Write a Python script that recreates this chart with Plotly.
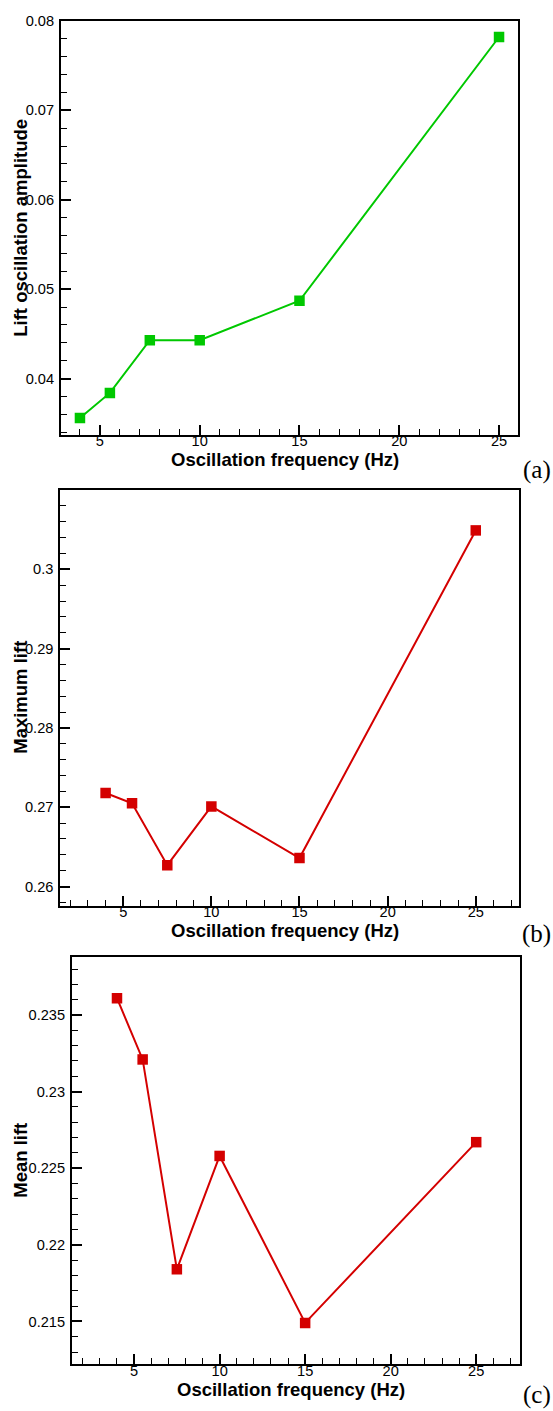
import plotly.graph_objects as go

# ---- data ----
freq = [4, 5.5, 7.5, 10, 15, 25]
lift_amp = [0.0356, 0.0384, 0.0443, 0.0443, 0.0487, 0.0782]
max_lift = [0.2718, 0.2705, 0.2627, 0.2701, 0.2636, 0.3049]
mean_lift = [0.2361, 0.2321, 0.2184, 0.2258, 0.2149, 0.2267]

x_ticks = [5, 10, 15, 20, 25]
x_ticktext = ["5", "10", "15", "20", "25"]
a_yticks = [0.04, 0.05, 0.06, 0.07, 0.08]
a_yticktext = ["0.04", "0.05", "0.06", "0.07", "0.08"]
b_yticks = [0.26, 0.27, 0.28, 0.29, 0.3]
b_yticktext = ["0.26", "0.27", "0.28", "0.29", "0.3"]
c_yticks = [0.215, 0.22, 0.225, 0.23, 0.235]
c_yticktext = ["0.215", "0.22", "0.225", "0.23", "0.235"]

x_title = "Oscillation frequency (Hz)"
y_titles = ["Lift oscillation amplitude", "Maximum lift", "Mean lift"]
panel_labels = ["(a)", "(b)", "(c)"]

W, H = 553, 1411
GREEN = "#00C800"
RED = "#D40000"

# plot boxes in pixels (left, right, top, bottom)
boxes = [
    (61, 518, 13, 429),
    (60.3, 519.3, 484.7, 902.7),
    (72, 520, 954.7, 1364),
]
label_offsets = [36, 29, 31]
xranges = [[3.05, 25.95], [1.43, 27.47], [1.37, 27.56]]
yranges = [[0.03374, 0.08], [0.2576, 0.31], [0.2122, 0.23877]]
ydt_minor = [0.002, 0.002, 0.001]

series = [lift_amp, max_lift, mean_lift]
colors = [GREEN, RED, RED]
ytick_sets = [(a_yticks, a_yticktext), (b_yticks, b_yticktext), (c_yticks, c_yticktext)]

fig = go.Figure()
TICKFONT = dict(family="Liberation Sans, Arial", size=14.6, color="black")
TITLEFONT = dict(family="Liberation Sans, Arial", size=18.5, color="black")

annotations = []
for i in range(3):
    l, r, t, b = boxes[i]
    sfx = "" if i == 0 else str(i + 1)
    fig.add_trace(go.Scatter(
        x=freq, y=series[i], mode="lines+markers",
        line=dict(color=colors[i], width=2),
        marker=dict(symbol="square", size=10.5, color=colors[i]),
        xaxis="x" + sfx, yaxis="y" + sfx, showlegend=False,
    ))
    common = dict(
        showline=True, linecolor="black", linewidth=2, mirror=True,
        ticks="inside", ticklen=10, tickwidth=2, tickcolor="black",
        showgrid=False, zeroline=False, tickfont=TICKFONT,
    )
    fig.layout["xaxis" + sfx] = dict(
        domain=[l / W, r / W], range=xranges[i], anchor="y" + sfx,
        tickvals=x_ticks, ticktext=x_ticktext, ticklabelstandoff=-8,
        minor=dict(ticks="inside", ticklen=6, tickwidth=1, tickcolor="black", dtick=1, tick0=0, showgrid=False),
        **common,
    )
    yt, ytt = ytick_sets[i]
    fig.layout["yaxis" + sfx] = dict(
        domain=[1 - b / H, 1 - t / H], range=yranges[i], anchor="x" + sfx,
        tickvals=yt, ticktext=ytt, ticklabelstandoff=2,
        minor=dict(ticks="inside", ticklen=6, tickwidth=1, tickcolor="black", dtick=ydt_minor[i], tick0=0, showgrid=False),
        **common,
    )
    # axis titles
    annotations.append(dict(
        text="<b>%s</b>" % x_title, x=((l + r) / 2 - 5) / W, y=1 - (b + 25) / H,
        xref="paper", yref="paper", xanchor="center", yanchor="middle",
        showarrow=False, font=TITLEFONT,
    ))
    annotations.append(dict(
        text="<b>%s</b>" % y_titles[i], x=21 / W, y=1 - ((t + b) / 2) / H,
        xref="paper", yref="paper", xanchor="center", yanchor="middle",
        textangle=-90, showarrow=False, font=TITLEFONT,
    ))
    annotations.append(dict(
        text=panel_labels[i], x=1.0, y=1 - (b + label_offsets[i]) / H,
        xref="paper", yref="paper", xanchor="right", yanchor="middle",
        showarrow=False, font=dict(family="Liberation Serif, Times New Roman", size=25, color="black"),
    ))

fig.update_layout(
    width=W, height=H, margin=dict(l=0, r=0, t=0, b=0),
    paper_bgcolor="white", plot_bgcolor="white",
    annotations=annotations,
)
fig.write_html("out.html")
